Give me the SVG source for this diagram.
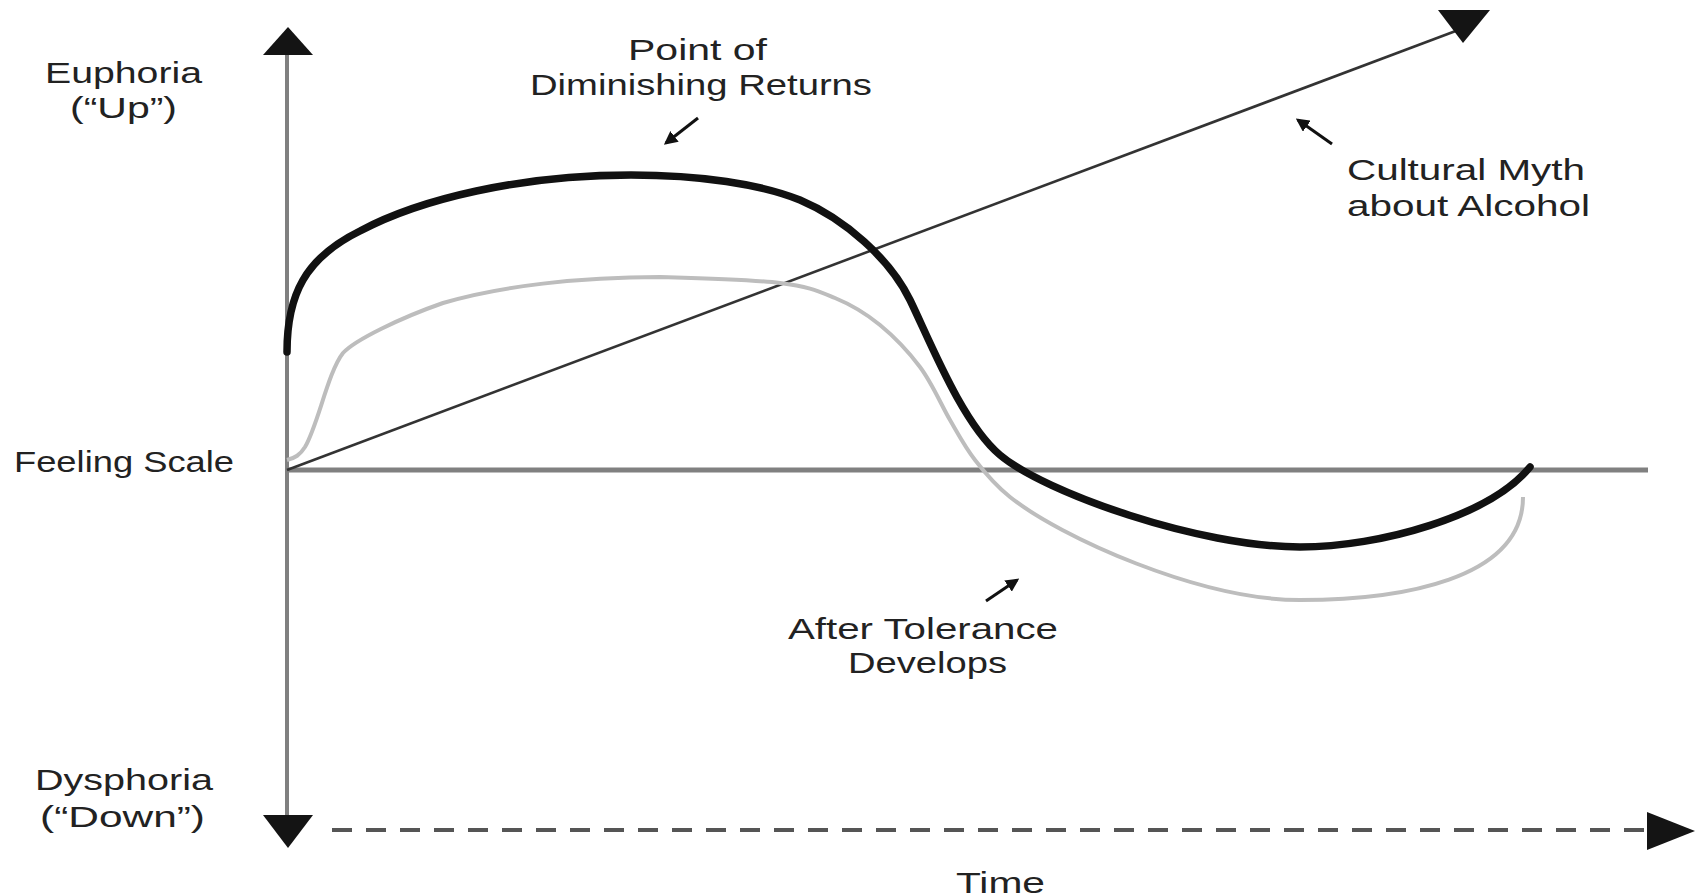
<svg xmlns="http://www.w3.org/2000/svg" width="1700" height="896" viewBox="0 0 1700 896">
<style>
.lbl{font-family:"Liberation Sans",Arial,sans-serif;font-size:29px;fill:#222;}
.axis{stroke:#808080;fill:none;}
.head{fill:#141414;}
.ptr{stroke:#111;stroke-width:3;fill:none;marker-end:url(#ah);}
</style>
<defs>
<marker id="ah" viewBox="0 0 10 10" refX="8" refY="5" markerWidth="4.5" markerHeight="4.5" orient="auto" markerUnits="strokeWidth">
<path d="M0,0 L10,5 L0,10 z" fill="#111"/>
</marker>
</defs>
<rect width="1700" height="896" fill="#fff"/>
<g id="connectors">
<g id="y-axis">
<line class="axis" x1="287" y1="50" x2="287" y2="818" stroke-width="4"/>
<polygon class="head" points="263,55 313,55 288,27"/>
<polygon class="head" points="263,815 313,815 288,848"/>
</g>
<g id="feeling-line">
<line class="axis" x1="287" y1="470" x2="1648" y2="470" stroke-width="5"/>
</g>
<g id="time-axis">
<line x1="332" y1="830" x2="1645" y2="830" stroke="#555" stroke-width="4" stroke-dasharray="20 14"/>
<polygon class="head" points="1647,812 1647,850 1695,831"/>
</g>
<g id="myth-line">
<line x1="287" y1="470" x2="1461" y2="29" stroke="#333" stroke-width="2.6"/>
<polygon class="head" points="1438,10 1490,10 1463,43"/>
</g>
<g id="tolerance-curve">
<path d="M287,460 C295,458 300,455 305,447 C318,425 328,372 343,353 C355,340 400,318 443,303 C500,286 580,277 660,277 C693,278 751,279.5 780,283 C809,286.5 818,291 835,298 C852,305 866,313.5 880,325 C894,336.5 908,351 920,367 C932,383 941,404.5 950,420 C959,435.5 965,447 975,460 C985,473 995,485 1010,497 C1060,537 1200,600 1300,600 C1400,600 1523,580 1523,497" stroke="#bdbdbd" stroke-width="4" fill="none"/>
</g>
<g id="alcohol-curve">
<path d="M287,352 C287,295 305,258 360,231 C420,199 520,175 631,175 C700,175 760,184 800,200 C845,219 890,259 910,300 C930,341 962,423 1000,455 C1045,493 1200,547 1300,547 C1380,547 1490,516 1530,467" stroke="#111" stroke-width="7.5" fill="none" stroke-linecap="round"/>
</g>
<g id="pointers">
<line class="ptr" x1="698" y1="118" x2="666" y2="143"/>
<line class="ptr" x1="1332" y1="144" x2="1298" y2="120"/>
<line class="ptr" x1="986" y1="601" x2="1017" y2="580"/>
</g>
</g>
<g id="label-euphoria">
<text class="lbl" x="45" y="83" textLength="157" lengthAdjust="spacingAndGlyphs">Euphoria</text>
<text class="lbl" x="70" y="118" textLength="107" lengthAdjust="spacingAndGlyphs">(“Up”)</text>
</g>
<g id="label-feeling">
<text class="lbl" x="14" y="472" textLength="220" lengthAdjust="spacingAndGlyphs">Feeling Scale</text>
</g>
<g id="label-dysphoria">
<text class="lbl" x="35" y="790" textLength="178" lengthAdjust="spacingAndGlyphs">Dysphoria</text>
<text class="lbl" x="40" y="827" textLength="165" lengthAdjust="spacingAndGlyphs">(“Down”)</text>
</g>
<g id="label-point">
<text class="lbl" x="628" y="60" textLength="139" lengthAdjust="spacingAndGlyphs">Point of</text>
<text class="lbl" x="530" y="95" textLength="342" lengthAdjust="spacingAndGlyphs">Diminishing Returns</text>
</g>
<g id="label-myth">
<text class="lbl" x="1347" y="180" textLength="238" lengthAdjust="spacingAndGlyphs">Cultural Myth</text>
<text class="lbl" x="1347" y="216" textLength="243" lengthAdjust="spacingAndGlyphs">about Alcohol</text>
</g>
<g id="label-tolerance">
<text class="lbl" x="788" y="639" textLength="270" lengthAdjust="spacingAndGlyphs">After Tolerance</text>
<text class="lbl" x="848" y="673" textLength="159" lengthAdjust="spacingAndGlyphs">Develops</text>
</g>
<g id="label-time">
<text class="lbl" x="956" y="893" textLength="89" lengthAdjust="spacingAndGlyphs">Time</text>
</g>
</svg>
